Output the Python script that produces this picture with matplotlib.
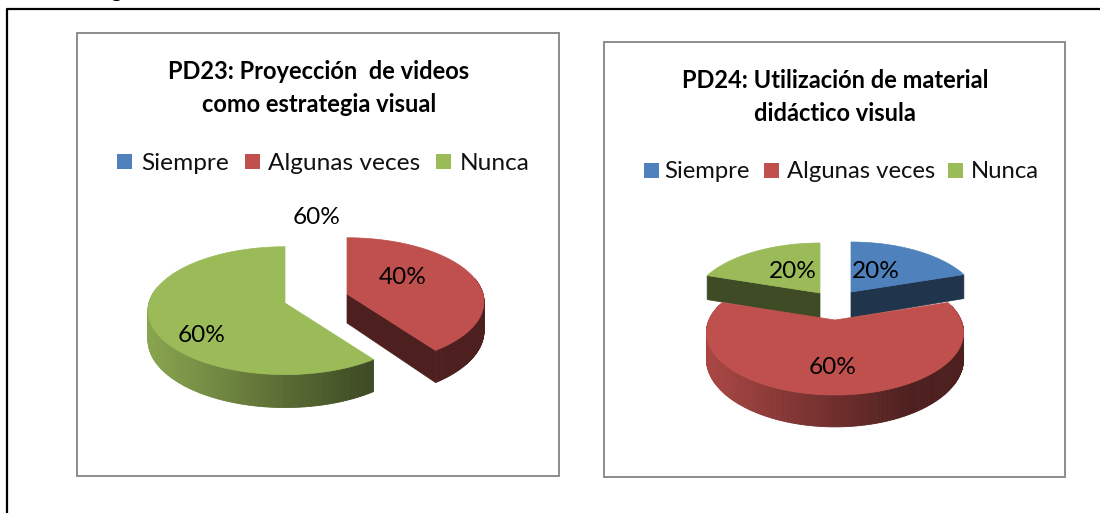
import numpy as np
import matplotlib
matplotlib.use('Agg')
import matplotlib.pyplot as plt
from matplotlib.patches import Rectangle, Polygon

categories = ['Siempre', 'Algunas veces', 'Nunca']
pd23_values = [0, 40, 60]
pd24_values = [20, 60, 20]
pd23_title = 'PD23: Proyección  de videos\ncomo estrategia visual'
pd24_title = 'PD24: Utilización de material\ndidáctico visula'
colors = ['#4f81bd', '#c0504d', '#9bbb59']

plt.rcParams['font.family'] = ['Lato', 'DejaVu Sans']


def project(theta, apex, rx, ry, k, lift=0):
    # theta runs clockwise from 12 o'clock, near side of the pie is drawn bigger
    u, v = np.sin(theta), np.cos(theta)
    s = 1 / (1 + k * v)
    return apex[0] + rx * u * s, apex[1] - ry * v * s + lift * s


def draw_slice(ax, start, end, color, apex, rx, ry, k, depth, z):
    theta = np.radians(np.linspace(start, end, 241))
    base = np.array(matplotlib.colors.to_rgb(color))
    dark = base * 0.4
    x, y = project(theta, apex, rx, ry, k)
    xb, yb = project(theta, apex, rx, ry, k, depth)
    front = np.cos(theta) < 0.25

    # outer wall, shaded left to right
    for i in range(len(theta) - 1):
        if not front[i]:
            continue
        t = np.clip((x[i] - (apex[0] - rx)) / (1.6 * rx), 0, 1)
        shade = base * 0.88 * (1 - t) + dark * t
        ax.add_patch(Polygon([(x[i], y[i]), (x[i + 1], y[i + 1]), (xb[i + 1], yb[i + 1]), (xb[i], yb[i])],
                             fc=shade, ec=shade, lw=0.6, zorder=z))

    # cut faces, only the ones that turn towards the viewer
    if 0 < end <= 180:
        ax.add_patch(Polygon([apex, (x[-1], y[-1]), (xb[-1], yb[-1]), (apex[0], apex[1] + depth)],
                             fc=dark, ec=dark, lw=0.5, zorder=z))
    if 180 <= start < 360:
        ax.add_patch(Polygon([apex, (x[0], y[0]), (xb[0], yb[0]), (apex[0], apex[1] + depth)],
                             fc=dark, ec=dark, lw=0.5, zorder=z))

    ax.add_patch(Polygon(np.vstack([[apex], np.column_stack([x, y])]), fc=color, ec=color, lw=0.5, zorder=z + 0.5))


def draw_pie(ax, values, apexes, rx, ry, k, depth, order):
    edges = np.cumsum([0] + list(values)) * 3.6
    for i in order:
        if values[i] > 0:
            draw_slice(ax, edges[i], edges[i + 1], colors[i], apexes[i], rx, ry, k, depth, 3 + order.index(i))


def draw_legend(ax, x_boxes, x_texts, y, size):
    for name, color, xb, xt in zip(categories, colors, x_boxes, x_texts):
        ax.add_patch(Rectangle((xb, y - 8), 15, 15, fc=color, ec='none', zorder=3))
        ax.text(xt, y + 1, name, fontsize=size, color='#111111', ha='left', va='center', zorder=3)


fig = plt.figure(figsize=(11, 5.13), dpi=100)
ax = fig.add_axes([0, 0, 1, 1])
ax.set_xlim(0, 1100)
ax.set_ylim(513, 0)
ax.axis('off')

# outer frame and cut off caption above it
ax.plot([6.5, 6.5, 1105], [520, 9, 9], color='black', lw=1.6)
ax.text(116, -3, 'g', fontsize=16, fontweight='bold', ha='center', va='baseline')

# chart boxes
ax.add_patch(Rectangle((77, 33), 482, 443, fc='white', ec='#8c8c8c', lw=1.4))
ax.add_patch(Rectangle((604, 42), 461, 435, fc='white', ec='#8c8c8c', lw=1.4))

ax.text(319, 88, pd23_title, fontsize=17, fontweight='bold', ha='center', va='center', linespacing=1.5, zorder=3)
ax.text(835, 97, pd24_title, fontsize=17, fontweight='bold', ha='center', va='center', linespacing=1.5, zorder=3)

draw_legend(ax, [117, 245, 436], [141, 268, 460], 162, 17.6)
draw_legend(ax, [644, 764, 948], [664, 787, 971], 171, 17.2)

draw_pie(ax, pd23_values, [None, (347, 294), (285, 303)], 136, 63, 0.12, 29, [1, 2])
draw_pie(ax, pd24_values, [(851, 292), (835, 320), (820, 293)], 126, 60, 0.2, 25.5, [0, 2, 1])

# data labels
ax.text(317, 217, f'{pd23_values[2]}%', fontsize=17.6, ha='center', va='center', zorder=9)
ax.text(403, 278, f'{pd23_values[1]}%', fontsize=17.6, ha='center', va='center', zorder=9)
ax.text(202, 335, f'{pd23_values[2]}%', fontsize=17.6, ha='center', va='center', zorder=9)
ax.text(876, 272, f'{pd24_values[0]}%', fontsize=17.6, ha='center', va='center', zorder=9)
ax.text(833, 368, f'{pd24_values[1]}%', fontsize=17.6, ha='center', va='center', zorder=9)
ax.text(793, 272, f'{pd24_values[2]}%', fontsize=17.6, ha='center', va='center', zorder=9)

fig.savefig('out.png', dpi=100)
